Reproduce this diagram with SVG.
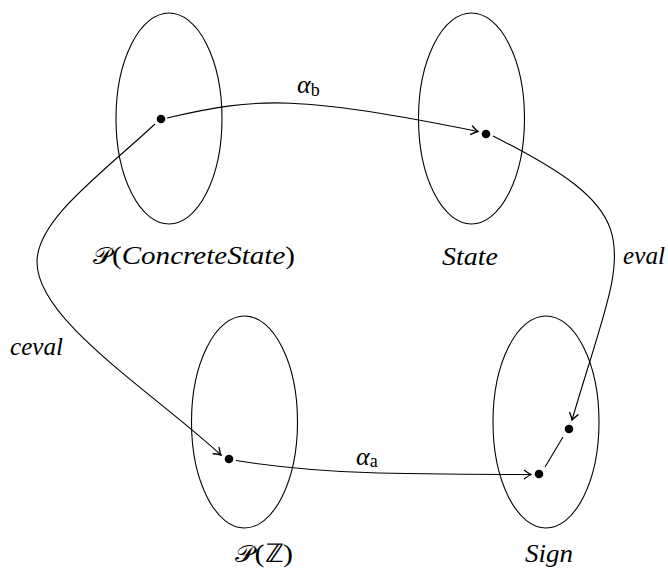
<svg xmlns="http://www.w3.org/2000/svg" width="668" height="570" viewBox="0 0 668 570">
<style>
.set{fill:none;stroke:#000;stroke-width:1.1}
.dot{fill:#000}
.edge{fill:none;stroke:#000;stroke-width:1.1}
text{font-family:'Liberation Serif','Times New Roman',serif;font-size:26px;fill:#000}
.it{font-style:italic}
.sub{font-size:18px;font-style:normal}
.cal{font-family:'DejaVu Serif','DejaVu Sans',serif;font-style:normal;font-size:23px}
</style>
<defs>
<marker id="arr" markerUnits="userSpaceOnUse" markerWidth="12" markerHeight="12" viewBox="-7 -5 9 10" refX="0" refY="0" orient="auto">
<path d="M -5.5 -3.6 Q -2 -0.9 0 0 Q -2 0.9 -5.5 3.6" fill="none" stroke="#000" stroke-width="1.1" stroke-linecap="round"/>
</marker>
</defs>
<g id="concrete">
<ellipse class="set" cx="169" cy="118.5" rx="53" ry="105.5"/>
<circle class="dot" cx="161" cy="119" r="4.3"/>
<text x="93" y="264" textLength="202" lengthAdjust="spacingAndGlyphs"><tspan class="cal">𝒫</tspan>(<tspan class="it">ConcreteState</tspan>)</text>
</g>
<g id="state">
<ellipse class="set" cx="471.5" cy="118.5" rx="53" ry="105.5"/>
<circle class="dot" cx="486" cy="134" r="4.3"/>
<text class="it" x="442" y="265" textLength="56" lengthAdjust="spacingAndGlyphs">State</text>
</g>
<g id="pz">
<ellipse class="set" cx="244.5" cy="422" rx="53" ry="106"/>
<circle class="dot" cx="229" cy="459" r="4.3"/>
<text x="235" y="562" textLength="58" lengthAdjust="spacingAndGlyphs"><tspan class="cal">𝒫</tspan>(ℤ)</text>
</g>
<g id="sign">
<ellipse class="set" cx="546" cy="422" rx="53" ry="106"/>
<circle class="dot" cx="539" cy="474" r="4.3"/>
<circle class="dot" cx="569" cy="429" r="4.3"/>
<text class="it" x="525" y="562" textLength="48" lengthAdjust="spacingAndGlyphs">Sign</text>
</g>
<g id="connectors">
<path class="edge" d="M 167 118 C 260 96, 300 96, 478 131.5" marker-end="url(#arr)"/>
<path class="edge" d="M 493 136 C 657.6 219, 623.8 242.4, 572 420" marker-end="url(#arr)"/>
<path class="edge" d="M 155 124 C 100 175, 37 220, 37 262 C 37 320, 150 390, 221 455" marker-end="url(#arr)"/>
<path class="edge" d="M 236 460.5 C 320 474, 400 474.5, 531 474.5" marker-end="url(#arr)"/>
<line class="edge" x1="563" y1="437" x2="545" y2="467"/>
<text class="it" x="297" y="93">α<tspan class="sub" dy="3">b</tspan></text>
<text class="it" x="356" y="465">α<tspan class="sub" dy="2">a</tspan></text>
<text class="it" x="623" y="264" textLength="42" lengthAdjust="spacingAndGlyphs">eval</text>
<text class="it" x="10" y="355" textLength="53" lengthAdjust="spacingAndGlyphs">ceval</text>
</g>
</svg>
